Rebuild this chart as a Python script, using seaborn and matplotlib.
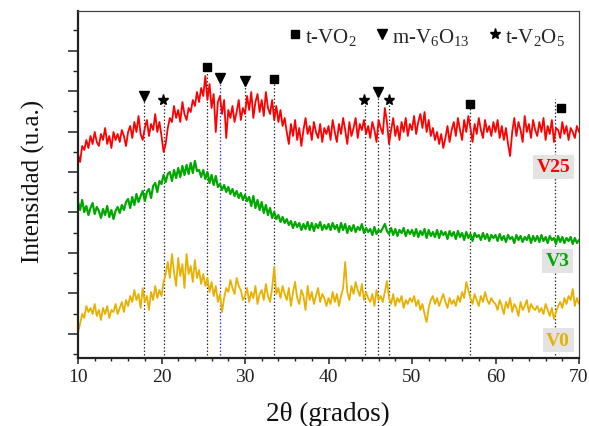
import numpy as np
import pandas as pd
import matplotlib
matplotlib.use("Agg")
import matplotlib.pyplot as plt
from matplotlib.ticker import FixedLocator, MultipleLocator, NullFormatter
from matplotlib.lines import Line2D
import seaborn as sns

# ---------------- data ----------------
two_theta = [10 + 0.25 * i for i in range(241)]

v25 = [
    204, 196, 212, 208, 218, 210, 222, 214, 226, 216, 212, 224, 218, 230, 214, 222, 210, 226, 218, 224,
    216, 228, 222, 212, 226, 232, 220, 236, 226, 242, 224, 218, 230, 238, 222, 234, 228, 244, 226, 236,
    222, 206, 214, 230, 240, 236, 252, 240, 248, 236, 256, 244, 238, 250, 246, 258, 252, 266, 256, 270,
    262, 282, 258, 274, 250, 264, 226, 256, 262, 244, 258, 220, 248, 240, 252, 236, 246, 258, 238, 250,
    244, 262, 248, 266, 240, 256, 264, 246, 258, 242, 266, 250, 244, 258, 238, 252, 236, 248, 232, 240,
    226, 214, 234, 222, 238, 218, 230, 212, 228, 240, 224, 232, 218, 236, 226, 220, 234, 216, 230, 224,
    232, 218, 238, 226, 216, 234, 224, 240, 228, 214, 236, 222, 230, 240, 220, 234, 228, 238, 224, 232,
    220, 236, 228, 216, 238, 230, 224, 250, 236, 214, 228, 240, 222, 232, 218, 236, 226, 240, 222, 234,
    228, 242, 224, 236, 244, 230, 246, 226, 238, 222, 230, 218, 226, 214, 224, 210, 220, 232, 216, 228,
    236, 222, 240, 228, 218, 238, 226, 242, 230, 216, 234, 224, 240, 228, 220, 238, 226, 232, 222, 236,
    226, 238, 220, 232, 218, 230, 214, 202, 226, 240, 222, 236, 228, 216, 242, 226, 234, 220, 238, 228,
    222, 236, 226, 240, 218, 232, 224, 238, 216, 230, 228, 220, 236, 224, 232, 218, 230, 226, 220, 232,
    226,
]

v3 = [
    156, 148, 158, 146, 152, 143, 150, 155, 144, 151, 147, 140, 149, 143, 152, 141, 148, 139, 147, 151,
    145, 153, 148, 156, 159, 150, 161, 153, 164, 156, 162, 167, 157, 166, 169, 160, 172, 175, 166, 177,
    174, 183, 176, 184, 186, 177, 188, 180, 190, 181, 192, 183, 193, 184, 195, 185, 197, 187, 188, 181,
    188, 179, 186, 175, 183, 173, 182, 171, 174, 168, 173, 166, 171, 164, 169, 162, 167, 160, 165, 158,
    163, 157, 161, 152, 162, 150, 158, 148, 156, 145, 153, 143, 150, 140, 146, 139, 143, 136, 141, 135,
    139, 133, 137, 130, 136, 131, 135, 128, 134, 129, 136, 128, 135, 127, 134, 130, 136, 128, 133, 129,
    134, 128, 135, 129, 133, 126, 135, 128, 134, 125, 132, 127, 133, 126, 131, 128, 134, 125, 130, 126,
    129, 123, 131, 124, 128, 126, 130, 134, 127, 124, 130, 123, 129, 122, 128, 125, 130, 122, 128, 124,
    128, 122, 129, 121, 127, 123, 129, 120, 128, 122, 126, 121, 128, 120, 127, 123, 126, 119, 127, 122,
    126, 119, 127, 121, 125, 118, 126, 120, 124, 117, 125, 121, 123, 118, 125, 119, 124, 117, 123, 120,
    123, 117, 124, 118, 122, 116, 123, 119, 121, 115, 123, 118, 122, 116, 121, 118, 123, 115, 122, 117,
    122, 116, 123, 117, 121, 115, 122, 118, 120, 114, 122, 116, 121, 115, 120, 117, 121, 114, 120, 115,
    118,
]

v0 = [
    26, 34, 44, 40, 52, 46, 50, 44, 54, 42, 48, 38, 50, 44, 52, 40, 48, 46, 54, 44,
    50, 56, 46, 58, 52, 62, 56, 68, 58, 64, 50, 70, 56, 62, 48, 66, 58, 72, 60, 68,
    62, 76, 84, 96, 80, 104, 86, 72, 100, 82, 94, 70, 104, 84, 92, 76, 98, 80, 88, 74,
    84, 72, 80, 66, 76, 62, 72, 56, 64, 46, 60, 70, 66, 78, 70, 64, 80, 72, 68, 58,
    62, 70, 56, 66, 60, 72, 54, 64, 68, 58, 74, 62, 56, 70, 91, 64, 70, 60, 72, 64,
    58, 70, 52, 66, 76, 60, 54, 68, 62, 48, 72, 58, 66, 54, 62, 70, 56, 64, 60, 52,
    60, 54, 66, 56, 64, 52, 62, 70, 96, 66, 58, 72, 64, 76, 68, 62, 74, 58, 66, 60,
    56, 64, 52, 68, 58, 62, 56, 66, 77, 60, 54, 64, 52, 60, 56, 62, 50, 58, 54, 60,
    56, 62, 52, 58, 48, 54, 44, 36, 50, 58, 62, 54, 60, 52, 58, 64, 56, 50, 60, 54,
    58, 52, 62, 56, 66, 60, 76, 68, 60, 54, 64, 58, 52, 62, 56, 66, 58, 54, 60, 56,
    54, 48, 58, 52, 44, 56, 50, 60, 46, 54, 50, 42, 56, 48, 52, 58, 46, 54, 50, 48,
    52, 46, 50, 44, 54, 48, 42, 50, 39, 46, 52, 56, 50, 60, 54, 62, 58, 69, 52, 60,
    54,
]

sample_names = ["V25", "V3", "V0"]
sample_colors = ["#ff0000", "#00a800", "#e8b000"]
sample_series = [v25, v3, v0]
sample_lw = [1.3, 1.6, 1.3]

# phase reflections: line position, line top, marker position, marker height, phase
peak_line_x = [17.9, 20.3, 25.45, 27.0, 30.0, 33.5, 44.4, 45.9, 47.3, 57.0, 67.1]
peak_line_top = [257, 254, 286, 276, 273, 274, 254, 261, 254, 250, 259]
peak_marker_x = [17.9, 20.2, 25.4, 27.0, 30.0, 33.5, 44.3, 45.9, 47.3, 57.0, 67.8]
peak_marker_y = [262, 258, 291, 280, 277, 279, 258, 266, 258, 254, 250]
peak_phase = ["m", "t5", "t", "m", "m", "t", "t5", "m", "t5", "t", "t"]
peak_line_color = ["#333333", "#333333", "#333333", "#3333ff", "#333333", "#333333",
                   "#333333", "#333333", "#333333", "#333333", "#333333"]

phase_keys = ["t", "m", "t5"]
phase_labels = ["t-VO$_2$", "m-V$_6$O$_{13}$", "t-V$_2$O$_5$"]
phase_markers = ["s", "v", "*"]
phase_msize = [5.8, 7.2, 8.0]

label_x = [66.95, 67.45, 67.5]
label_y = [191, 97, 18]

x_ticks = [10, 20, 30, 40, 50, 60, 70]

# ---------------- figure ----------------
sns.set_theme(style="ticks")
plt.rcParams["font.family"] = ["Liberation Serif", "DejaVu Serif"]
plt.rcParams["mathtext.default"] = "regular"

fig = plt.figure(figsize=(5.89, 4.27), dpi=100)
ax = fig.add_axes([78 / 589, 1 - 359 / 427, 501 / 589, 347 / 427])

for name, series, c, lw in zip(sample_names, sample_series, sample_colors, sample_lw):
    d = pd.DataFrame({"two_theta": two_theta, "intensity": series})
    sns.lineplot(data=d, x="two_theta", y="intensity", color=c, estimator=None,
                 sort=False, lw=lw, ax=ax, zorder=2)

# reference lines
for x, top, c in zip(peak_line_x, peak_line_top, peak_line_color):
    ax.plot([x, x], [3, top], ls=(0, (1.2, 1.6)), lw=0.9, color=c, zorder=1)

# phase markers
for key, mk, ms in zip(phase_keys, phase_markers, phase_msize):
    xs = [x for x, p in zip(peak_marker_x, peak_phase) if p == key]
    ys = [y for y, p in zip(peak_marker_y, peak_phase) if p == key]
    ax.plot(xs, ys, ls="none", marker=mk, ms=ms, color="black", zorder=4)

# legend
handles = [Line2D([], [], ls="none", marker=mk, ms=ms, color="black")
           for mk, ms in zip(phase_markers, phase_msize)]
ax.legend(handles, phase_labels, ncol=3, frameon=False, loc="upper right",
          bbox_to_anchor=(1.0, 1.0), fontsize=15, handlelength=0.5,
          handletextpad=0.2, columnspacing=1.0, borderaxespad=0.3)

# sample labels
for name, c, lx, ly in zip(sample_names, sample_colors, label_x, label_y):
    ax.text(lx, ly, name, color=c, fontsize=14, fontweight="bold",
            ha="center", va="center",
            bbox=dict(boxstyle="square,pad=0.18", fc="#e3e3e3", ec="none"))

ax.set_xlim(10, 70)
ax.set_ylim(0, 347)
ax.set_xticks(x_ticks)
ax.xaxis.set_minor_locator(MultipleLocator(2))
ax.yaxis.set_major_locator(FixedLocator([24.2 + 40.45 * k for k in range(8)]))
ax.yaxis.set_minor_locator(FixedLocator([4.0 + 40.45 * k for k in range(9)]))
ax.yaxis.set_major_formatter(NullFormatter())
ax.set_xlabel("2θ (grados)", fontsize=19.5, color="#111111")
ax.set_ylabel("Intensidad (u.a.)", fontsize=18, color="#111111")
ax.tick_params(axis="x", which="major", direction="out", length=4.5, width=1.1,
               color="#222222", labelsize=14, labelcolor="#222222", pad=3)
ax.tick_params(axis="x", which="minor", direction="out", length=2.5, width=1.0,
               color="#222222")
ax.tick_params(axis="y", which="major", direction="out", length=7.5, width=1.1,
               color="#222222")
ax.tick_params(axis="y", which="minor", direction="out", length=3.8, width=1.0,
               color="#222222")
ax.xaxis.set_label_coords(0.499, -0.123)
ax.yaxis.set_label_coords(-0.066, 0.513)

for s in ["left", "bottom"]:
    ax.spines[s].set_linewidth(1.6)
    ax.spines[s].set_color("#222222")
for s in ["top", "right"]:
    ax.spines[s].set_linewidth(0.9)
    ax.spines[s].set_color("#444444")
    ax.spines[s].set_visible(True)

fig.savefig("out.png", dpi=100)
